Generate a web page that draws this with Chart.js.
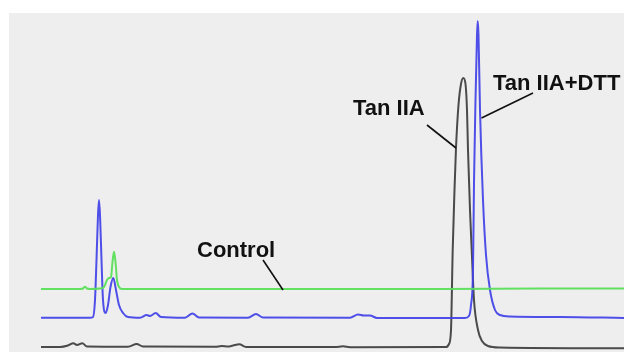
<!DOCTYPE html>
<html>
<head>
<meta charset="utf-8">
<script src="https://cdn.jsdelivr.net/npm/chart.js@4/dist/chart.umd.min.js"></script>
<style>
  html,body{margin:0;padding:0;background:#ffffff;}
  #wrap{position:relative;width:624px;height:352px;}
</style>
</head>
<body>
<div id="wrap"><canvas id="c" width="624" height="352"></canvas></div>
<script>
// Retention time (min) and detector signal (arbitrary units, traces offset as in the figure)
const controlTime   = [0,0.95,1.95,2.1,2.2,2.3,2.45,2.95,3.15,3.3,3.4,3.5,3.575,3.65,3.725,3.8,3.9,4.05,5.95,12,20,25,29.15];
const controlSignal = [63,63,63,63.5,65.3,63.5,63,63.5,65,72,74,75,90,100.3,90,72,65,63,63,63,63,63.5,63.5];

const dttTime   = [0,2.45,2.6,2.7,2.775,2.85,2.9,2.95,3.025,3.1,3.235,3.35,3.475,3.615,3.75,3.9,4.1,4.35,4.95,5.285,5.45,5.735,6.0,7.2,7.575,7.9,10.35,10.75,11.1,15.45,15.85,16.15,16.45,16.8,21.2,21.4,21.5,21.6,21.65,21.725,21.8,21.835,21.875,21.95,22.1,22.25,22.45,22.7,22.95,23.45,25.95,29.15];
const dttSignal = [34.3,34.3,35,52,92,137,152,137,92,52,39,47,65,74,62,47,39,35,34.3,37,36,39,35,34.3,38.5,34.5,34.3,38,34.5,34.3,37.5,36.5,36.5,34,34,36,47,82,169,252,317,331,317,242,152,97,62,42,37,35.5,35,34];

const tanTime   = [0,0.95,1.35,1.615,1.8,2.065,2.3,4.35,4.785,5.1,8.7,9.035,9.35,9.6,9.915,10.25,14.7,15.1,15.45,20.25,20.4,20.5,20.585,20.675,20.75,20.875,21.0,21.115,21.225,21.3,21.35,21.45,21.535,21.65,21.85,22.05,22.35,22.95,29.15];
const tanSignal = [5,5,6.5,8.7,7,8.7,5.5,5.3,8,5.5,5.2,6,5.5,6.5,7.7,5,5,5.7,4.8,5,8,22,102,162,204,247,268,274,268,242,202,142,102,52,22,11,6,4.5,3.7];

const seriesNames = ["Control", "Tan IIA+DTT", "Tan IIA"];

// Annotation labels: text position (t, signal) and leader line from/to
const labelTexts = ["Tan IIA+DTT", "Tan IIA", "Control"];
const labelPos   = [[22.6, 262], [15.6, 237], [7.8, 95]];
const leaderFrom = [[24.6, 259], [19.3, 227], [11.1, 92]];
const leaderTo   = [[22.025, 234], [20.75, 204], [12.1, 62]];

const toPts = (xs, ys) => xs.map((x, i) => ({x: x, y: ys[i]}));

const panelPlugin = {
  id: 'panel',
  beforeDraw(chart) {
    const {ctx, chartArea} = chart;
    ctx.save();
    ctx.fillStyle = '#eeeeee';
    ctx.fillRect(chartArea.left - 32, chartArea.top, chart.width - (chartArea.left - 32), chart.height - chartArea.top);
    ctx.restore();
  }
};

const labelPlugin = {
  id: 'labels',
  afterDatasetsDraw(chart) {
    const {ctx, scales} = chart;
    const xs = scales.x, ys = scales.y;
    ctx.save();
    ctx.strokeStyle = '#111111';
    ctx.lineWidth = 1.6;
    for (let i = 0; i < leaderFrom.length; i++) {
      ctx.beginPath();
      ctx.moveTo(xs.getPixelForValue(leaderFrom[i][0]), ys.getPixelForValue(leaderFrom[i][1]));
      ctx.lineTo(xs.getPixelForValue(leaderTo[i][0]), ys.getPixelForValue(leaderTo[i][1]));
      ctx.stroke();
    }
    ctx.fillStyle = '#111111';
    ctx.font = 'bold 22px "Liberation Sans", Arial, sans-serif';
    ctx.textBaseline = 'alphabetic';
    ctx.textAlign = 'left';
    for (let i = 0; i < labelTexts.length; i++) {
      ctx.fillText(labelTexts[i], xs.getPixelForValue(labelPos[i][0]), ys.getPixelForValue(labelPos[i][1]));
    }
    ctx.restore();
  }
};

new Chart(document.getElementById('c'), {
  type: 'scatter',
  data: {
    datasets: [
      {label: seriesNames[0], data: toPts(controlTime, controlSignal), borderColor: 'rgba(90,222,90,0.95)'},
      {label: seriesNames[1], data: toPts(dttTime, dttSignal), borderColor: 'rgba(64,64,232,0.92)'},
      {label: seriesNames[2], data: toPts(tanTime, tanSignal), borderColor: 'rgba(55,55,55,0.9)'}
    ].map(d => Object.assign(d, {showLine: true, pointRadius: 0, borderWidth: 2, cubicInterpolationMode: 'monotone', fill: false}))
  },
  options: {
    responsive: false,
    animation: false,
    events: [],
    layout: {padding: {left: 41, top: 13, right: 0, bottom: 0}},
    plugins: {legend: {display: false}, tooltip: {enabled: false}},
    scales: {
      x: {type: 'linear', min: 0, max: 29.15, display: false},
      y: {type: 'linear', min: 0, max: 339, display: false}
    }
  },
  plugins: [panelPlugin, labelPlugin]
});
</script>
</body>
</html>
